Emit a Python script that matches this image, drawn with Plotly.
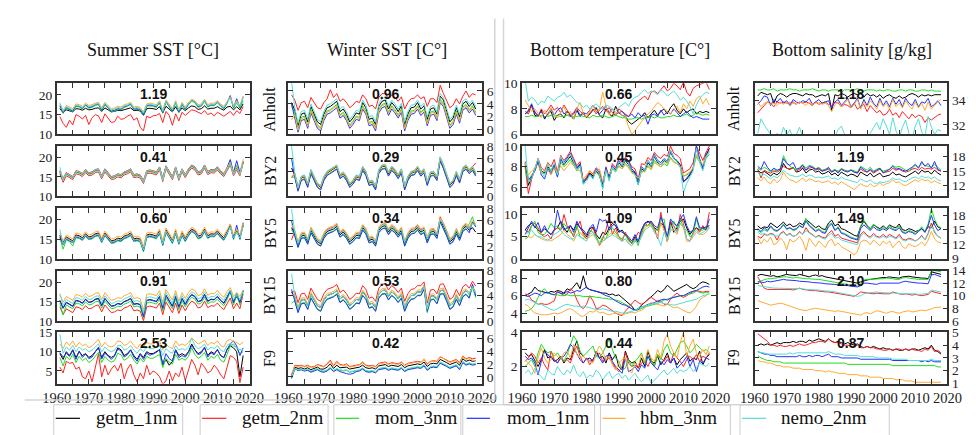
import plotly.graph_objects as go

W, H = 976, 435
years = list(range(1961, 2019))
models = ["getm_1nm", "getm_2nm", "mom_3nm", "mom_1nm", "hbm_3nm", "nemo_2nm"]
colors = {"getm_1nm": "#000000", "getm_2nm": "#ff2222", "mom_3nm": "#22dd22",
          "mom_1nm": "#2233ff", "hbm_3nm": "#ffaa33", "nemo_2nm": "#55ddd5"}
stations = ["Anholt", "BY2", "BY5", "BY15", "F9"]
col_titles = ["Summer SST [°C]", "Winter SST [C°]", "Bottom temperature [C°]", "Bottom salinity [g/kg]"]

# ---------------- Summer SST ----------------
summer_anholt = {
    "getm_1nm": [16.5,15.5,16.2,16.0,15.7,16.5,16.4,16.1,16.6,16.2, 16.3,16.6,16.7,15.8,16.7,16.2,15.7,15.8,16.1,16.0,
                 16.3,16.5,16.7,16.0,16.1,15.9,14.8,16.5,16.6,16.5, 16.3,17.0,15.5,17.1,16.4,15.7,17.0,15.6,16.7,16.0,
                 16.7,17.2,17.0,16.3,16.5,17.2,16.4,16.6,16.6,17.0, 16.5,16.1,16.9,17.1,16.2,17.0,16.2,17.7],
    "getm_2nm": [14.5,12.8,11.8,13.6,12.4,15.0,14.6,13.9,14.8,12.5, 14.2,15.0,14.7,13.0,15.2,14.0,13.0,13.2,14.6,13.8,
                 14.0,14.6,15.0,13.6,14.2,11.8,10.9,14.6,14.2,14.7, 14.8,15.3,13.0,15.8,14.8,12.3,15.2,13.4,15.6,14.8,
                 15.4,16.2,16.0,15.6,15.2,16.0,15.0,15.4,14.7,15.6, 15.0,14.6,15.2,15.8,14.8,16.0,15.3,17.0],
    "mom_3nm": [17.1,15.3,16.6,16.2,15.7,17.1,16.9,16.4,17.3,16.6, 16.8,17.3,17.5,15.9,17.5,16.6,15.7,15.9,16.3,16.2,
                16.8,17.1,17.5,16.2,16.3,16.1,14.8,17.1,17.2,17.1, 16.8,18.0,15.3,18.2,16.9,15.7,18.0,15.5,17.5,16.2,
                17.5,18.4,18.0,16.8,17.1,18.4,16.9,17.3,17.2,18.0, 17.1,16.4,17.8,19.6,16.6,18.0,16.6,18.5],
    "mom_1nm": [17.3,15.5,16.8,16.4,15.9,17.3,17.1,16.6,17.5,16.8, 17.0,17.5,17.7,16.1,17.7,16.8,15.9,16.1,16.5,16.4,
                17.0,17.3,17.7,16.4,16.5,16.3,15.0,17.3,17.4,17.3, 17.0,18.2,15.5,18.4,17.1,15.9,18.2,15.7,17.7,16.4,
                17.7,18.6,18.2,17.0,17.3,18.6,17.1,17.5,17.4,18.2, 17.3,16.6,18.0,19.8,16.8,19.0,16.8,19.5],
    "hbm_3nm": [17.7,16.1,17.3,16.9,16.5,17.7,17.5,17.1,17.9,17.3, 17.5,17.9,18.1,16.7,18.1,17.3,16.5,16.7,17.1,16.9,
                17.5,17.7,18.1,16.9,17.1,16.8,15.7,17.7,17.9,17.7, 17.5,18.5,16.1,18.7,17.5,16.5,18.5,16.3,18.1,16.9,
                18.1,18.9,18.5,17.5,17.7,18.9,17.5,17.9,17.9,18.5, 17.7,17.1,18.3,19.5,17.3,18.5,17.3,19.7],
    "nemo_2nm": [18.0,15.8,17.0,16.6,16.2,17.4,17.2,16.8,17.6,17.0, 17.2,17.6,17.8,16.4,17.8,17.0,16.2,16.4,16.8,16.6,
                 17.2,17.4,17.8,16.6,16.8,16.5,15.4,17.4,17.6,17.4, 17.2,18.2,15.8,18.4,17.2,16.2,18.2,16.0,17.8,16.6,
                 17.8,18.6,18.2,17.2,17.4,18.6,17.2,17.6,17.6,18.2, 17.4,16.8,18.0,19.2,17.0,18.2,17.0,19.4],
}
summer_by2 = {
    "getm_1nm": [16.3,14.3,15.8,15.3,14.8,16.3,16.1,15.6,16.6,15.8, 16.0,16.6,16.8,15.0,16.8,15.8,14.8,15.0,15.5,15.3,
                 16.0,16.3,16.8,15.3,15.5,15.2,13.8,16.3,16.5,16.3, 16.0,17.3,14.3,17.6,16.1,14.8,17.3,14.6,16.8,15.3,
                 16.8,17.8,17.3,16.0,16.3,17.8,16.1,16.6,16.5,17.3, 16.3,15.6,17.1,18.6,15.8,17.3,15.8,18.8],
    "getm_2nm": [15.8,13.6,15.3,14.8,14.3,15.8,15.6,15.1,16.1,15.3, 15.5,16.1,16.3,14.5,16.3,15.3,14.3,14.5,15.0,14.8,
                 15.5,15.8,16.3,14.8,15.0,14.7,13.3,15.8,16.0,15.8, 15.5,16.8,13.8,17.1,15.6,14.3,16.8,14.1,16.3,14.8,
                 16.3,17.3,16.8,15.5,15.8,17.3,15.6,16.1,16.0,16.8, 15.8,15.1,16.6,18.1,15.3,16.8,15.3,18.6],
    "mom_3nm": [16.4,14.4,15.9,15.4,14.9,16.4,16.2,15.7,16.7,15.9, 16.1,16.7,16.9,15.1,16.9,15.9,14.9,15.1,15.6,15.4,
                16.1,16.4,16.9,15.4,15.6,15.3,13.9,16.4,16.6,16.4, 16.1,17.4,14.4,17.7,16.2,14.9,17.4,14.7,16.9,15.4,
                16.9,17.9,17.4,16.1,16.4,17.9,16.2,16.7,16.6,17.4, 16.4,15.7,17.2,19.4,15.9,18.0,15.9,18.9],
    "mom_1nm": [16.6,14.6,16.1,15.6,15.1,16.6,16.4,15.9,16.9,16.1, 16.3,16.9,17.1,15.3,17.1,16.1,15.1,15.3,15.8,15.6,
                16.3,16.6,17.1,15.6,15.8,15.5,14.1,16.6,16.8,16.6, 16.3,17.6,14.6,17.9,16.4,15.1,17.6,14.9,17.1,15.6,
                17.1,18.1,17.6,16.3,16.6,18.1,16.4,16.9,16.8,17.6, 16.6,15.9,17.4,19.5,16.1,19.2,16.1,19.0],
    "hbm_3nm": [16.5,14.5,16.0,15.5,15.0,16.5,16.3,15.8,16.8,16.0, 16.2,16.8,17.0,15.2,17.0,16.0,15.0,15.2,15.7,15.5,
                16.2,16.5,17.0,15.5,15.7,15.4,14.0,16.5,16.7,16.5, 16.2,17.5,14.5,17.8,16.3,15.0,17.5,14.8,17.0,15.5,
                17.0,18.0,17.5,16.2,16.5,18.0,16.3,16.8,16.7,17.5, 16.5,15.8,17.3,18.8,16.0,17.5,16.0,19.6],
    "nemo_2nm": [17.5,14.1,15.6,15.1,14.6,16.1,15.9,15.4,16.4,15.6, 15.8,16.4,16.6,14.8,16.6,15.6,14.6,14.8,15.3,15.1,
                 15.8,16.1,16.6,15.1,15.3,15.0,13.6,16.1,16.3,16.1, 15.8,17.1,14.1,17.4,15.9,14.6,17.1,14.4,16.6,15.1,
                 16.6,17.6,17.1,15.8,16.1,17.6,15.9,16.4,16.3,17.1, 16.1,15.4,16.9,18.4,15.6,17.1,15.6,18.6],
}
summer_by5 = {
    "getm_1nm": [16.1,14.1,15.6,15.1,14.6,16.1,15.9,15.4,16.4,15.6, 15.8,16.4,16.6,14.8,16.6,15.6,14.6,14.8,15.3,15.1,
                 15.8,16.1,16.6,15.1,15.3,15.0,12.6,16.1,16.3,16.1, 15.8,17.1,14.1,17.4,15.9,14.6,17.1,14.4,16.6,15.1,
                 16.6,17.6,17.1,15.8,16.1,17.6,15.9,16.4,16.3,17.1, 16.1,15.4,16.9,18.4,15.6,17.1,15.6,18.6],
    "getm_2nm": [15.9,13.9,15.4,14.9,14.4,15.9,15.7,15.2,16.2,15.4, 15.6,16.2,16.4,14.6,16.4,15.4,14.4,14.6,15.1,14.9,
                 15.6,15.9,16.4,14.9,15.1,14.8,12.4,15.9,16.1,15.9, 15.6,16.9,13.9,17.2,15.7,14.4,16.9,14.2,16.4,14.9,
                 16.4,17.4,16.9,15.6,15.9,17.4,15.7,16.2,16.1,16.9, 15.9,15.2,16.7,18.2,15.4,16.9,15.4,18.4],
    "mom_3nm": [15.4,12.5,14.9,14.4,13.3,15.4,15.2,14.7,15.7,14.9, 15.1,15.7,15.9,14.1,15.9,14.9,13.9,14.1,14.6,14.4,
                15.1,15.4,15.9,14.4,14.6,14.3,11.8,15.4,15.6,15.4, 15.1,16.4,13.4,16.7,15.2,13.9,16.4,13.7,15.9,14.4,
                15.9,16.9,16.4,15.1,15.4,16.9,15.2,15.7,15.6,16.4, 15.4,14.7,16.2,18.6,14.9,17.5,14.9,19.0],
    "mom_1nm": [15.6,13.6,15.1,14.6,14.1,15.6,15.4,14.9,15.9,15.1, 15.3,15.9,16.1,14.3,16.1,15.1,14.1,14.3,14.8,14.6,
                15.3,15.6,16.1,14.6,14.8,14.5,12.1,15.6,15.8,15.6, 15.3,16.6,13.6,16.9,15.4,14.1,16.6,13.9,16.1,14.6,
                16.1,17.1,16.6,15.3,15.6,17.1,15.4,15.9,15.8,16.6, 15.6,14.9,16.4,18.8,15.1,18.6,15.1,19.2],
    "hbm_3nm": [16.6,14.6,16.1,15.6,15.1,16.6,16.4,15.9,16.9,16.1, 16.3,16.9,17.1,15.3,17.1,16.1,15.1,15.3,15.8,15.6,
                16.3,16.6,17.1,15.6,15.8,15.5,13.1,16.6,16.8,16.6, 16.3,17.6,14.6,17.9,16.4,15.1,17.6,14.9,17.1,15.6,
                17.1,18.1,17.6,16.3,16.6,18.1,16.4,16.9,16.8,17.6, 16.6,15.9,17.4,18.9,16.1,17.6,16.1,19.3],
    "nemo_2nm": [17.5,13.8,15.3,14.8,14.3,15.8,15.6,15.1,16.1,15.3, 15.5,16.1,16.3,14.5,16.3,15.3,14.3,14.5,15.0,14.8,
                 15.5,15.8,16.3,14.8,15.0,14.7,12.3,15.8,16.0,15.8, 15.5,16.8,13.8,17.1,15.6,14.3,16.8,14.1,16.3,14.8,
                 16.3,17.3,16.8,15.5,15.8,17.3,15.6,16.1,16.0,16.8, 15.8,15.1,16.6,18.1,15.3,16.8,15.3,18.3],
}
summer_by15 = {
    "getm_1nm": [15.3,13.3,14.8,14.3,13.8,15.3,15.1,14.6,15.6,14.8, 15.0,15.6,15.8,14.0,15.8,14.8,13.8,14.0,14.5,14.3,
                 15.0,15.3,15.8,14.3,14.5,14.2,11.2,15.3,15.5,15.3, 15.0,16.3,13.3,16.6,15.1,13.8,16.3,13.6,15.8,14.3,
                 15.8,16.8,16.3,15.0,15.3,16.8,15.1,15.6,15.5,16.3, 15.3,14.6,16.1,17.6,14.8,16.3,14.8,17.8],
    "getm_2nm": [13.6,11.6,13.1,12.6,12.1,13.6,13.4,12.9,13.9,13.1, 13.3,13.9,14.1,12.3,14.1,13.1,12.1,12.3,12.8,12.6,
                 13.3,13.6,14.1,12.6,12.8,12.5,10.0,13.6,13.8,13.6, 13.3,14.6,11.6,14.9,13.4,12.1,14.6,11.9,14.1,12.6,
                 14.1,15.1,14.6,13.3,13.6,15.1,13.4,13.9,13.8,14.6, 13.6,12.9,14.4,15.9,13.1,14.6,13.1,17.0],
    "mom_3nm": [14.6,11.5,14.1,13.6,13.1,14.6,14.4,13.9,14.9,14.1, 14.3,14.9,15.1,13.3,15.1,14.1,13.1,13.3,13.8,13.6,
                14.3,14.6,15.1,13.6,13.8,13.5,10.8,14.6,14.8,14.6, 14.3,15.6,12.6,15.9,14.4,13.1,15.6,12.9,15.1,13.6,
                15.1,16.1,15.6,14.3,14.6,16.1,14.4,14.9,14.8,15.6, 14.6,13.9,15.4,17.6,14.1,16.6,14.1,17.6],
    "mom_1nm": [15.2,13.2,14.7,14.2,13.7,15.2,15.0,14.5,15.5,14.7, 14.9,15.5,15.7,13.9,15.7,14.7,13.7,13.9,14.4,14.2,
                14.9,15.2,15.7,14.2,14.4,14.1,11.1,15.2,15.4,15.2, 14.9,16.2,13.2,16.5,15.0,13.7,16.2,13.5,15.7,14.2,
                15.7,16.7,16.2,14.9,15.2,16.7,15.0,15.5,15.4,16.2, 15.2,14.5,16.0,17.9,14.7,17.2,14.7,17.9],
    "hbm_3nm": [16.8,14.8,16.3,15.8,15.3,16.8,16.6,16.1,17.1,16.3, 16.5,17.1,17.3,15.5,17.3,16.3,15.3,15.5,16.0,15.8,
                16.5,16.8,17.3,15.8,16.0,15.7,12.7,16.8,17.0,16.8, 16.5,17.8,14.8,18.1,16.6,15.3,17.8,15.1,17.3,15.8,
                17.3,18.3,17.8,16.5,16.8,18.3,16.6,17.1,17.0,17.8, 16.8,16.1,17.6,18.6,16.3,17.3,16.3,18.0],
    "nemo_2nm": [17.0,14.0,15.5,15.0,14.5,16.0,15.8,15.3,16.3,15.5, 15.7,16.3,16.5,14.7,16.5,15.5,14.5,14.7,15.2,15.0,
                 15.7,16.0,16.5,15.0,15.2,14.9,11.9,16.0,16.2,16.0, 15.7,17.0,14.0,17.3,15.8,14.5,17.0,14.3,16.5,15.0,
                 16.5,17.5,17.0,15.7,16.0,17.5,15.8,16.3,16.2,17.0, 16.0,15.3,16.8,18.0,15.5,17.0,15.5,17.8],
}
summer_f9 = {
    "getm_1nm": [9.5,8.0,10.0,9.0,10.5,8.5,10.0,9.0,9.5,8.5, 9.0,10.0,11.0,8.5,10.0,9.0,8.5,9.0,11.0,10.5,
                 9.0,9.5,10.5,9.0,8.0,9.5,8.5,10.0,9.5,9.5, 10.0,10.5,6.5,8.0,6.5,7.5,10.5,9.0,9.5,9.0,
                 10.0,12.0,10.5,9.5,10.0,11.0,9.0,10.0,9.5,10.5, 9.0,8.5,10.5,11.5,11.0,10.0,3.5,9.0],
    "getm_2nm": [6.0,4.5,7.5,7.0,7.2,5.5,6.0,3.5,3.0,5.0, 2.2,6.0,9.5,3.5,6.5,4.0,5.5,6.5,5.0,7.0,
                 3.0,5.5,6.8,4.0,2.2,4.5,3.0,6.5,4.0,5.0, 4.5,3.5,1.5,2.5,5.0,2.5,4.5,3.5,6.0,2.5,
                 5.5,8.0,6.5,4.0,7.0,6.0,4.5,5.0,6.5,5.5, 4.0,3.0,6.0,9.0,8.5,7.5,2.0,6.0],
    "mom_3nm": [8.5,6.3,8.8,7.9,9.3,7.2,8.8,7.7,8.3,7.2, 7.8,8.8,9.8,7.2,8.8,7.8,7.3,7.7,9.6,9.2,
                7.8,8.3,9.3,7.8,6.8,8.3,7.3,8.8,8.3,8.3, 8.8,9.3,5.9,8.3,7.3,6.8,9.3,7.8,8.3,7.8,
                8.8,11.0,9.3,8.3,8.8,9.8,7.8,8.8,8.3,9.3, 7.8,7.3,9.3,11.5,12.0,11.0,9.5,10.0],
    "mom_1nm": [9.8,8.6,9.6,8.8,10.3,8.0,10.2,8.5,9.4,8.2, 8.6,9.9,11.2,8.1,9.6,8.8,8.0,8.9,10.7,10.2,
                8.6,9.2,10.4,8.6,7.5,9.3,8.0,9.6,9.1,9.4, 9.8,10.6,6.8,9.5,8.2,7.6,10.4,8.5,9.0,8.6,
                9.8,11.6,10.3,9.2,9.6,11.2,8.6,9.7,9.2,10.6, 9.0,8.4,10.6,12.0,12.8,11.5,9.0,11.0],
    "hbm_3nm": [12.0,10.8,12.5,11.6,12.8,11.2,12.4,11.5,12.0,11.0, 11.5,12.4,13.2,11.2,12.4,11.5,11.2,11.6,12.8,12.6,
                11.6,12.0,12.8,11.6,10.8,12.0,11.2,12.4,12.0,12.0, 12.4,12.8,10.5,12.0,11.2,10.8,12.8,11.6,12.0,11.6,
                12.4,13.6,12.8,12.0,12.4,13.0,11.6,12.4,12.0,12.8, 11.6,11.2,12.8,13.2,12.6,12.4,11.8,12.5],
    "nemo_2nm": [14.5,9.6,11.2,10.4,11.6,10.0,11.2,10.4,10.8,10.0, 10.4,11.2,12.0,10.0,11.2,10.4,10.0,10.4,11.6,11.6,
                 10.4,10.8,11.6,10.4,9.6,10.8,10.0,11.2,10.8,10.8, 11.2,11.6,9.0,10.8,10.0,9.6,11.6,10.4,10.8,10.4,
                 11.2,13.5,11.6,10.8,11.2,12.0,10.4,11.2,10.8,11.6, 10.4,10.0,11.6,12.2,11.5,11.0,10.5,10.5],
}

# ---------------- Winter SST ----------------
winter_anholt = {
    "getm_1nm": [4.2,3.0,0.6,2.4,2.6,1.2,3.6,2.4,1.2,0.8, 2.4,3.4,3.6,4.0,4.4,2.8,3.2,2.4,1.2,1.8,
                 2.6,2.4,4.2,3.4,1.6,1.8,0.8,3.6,4.4,4.6, 3.2,4.2,3.6,2.8,3.7,0.8,2.4,3.4,3.5,4.2,
                 3.2,3.7,1.6,3.2,3.4,2.4,5.2,4.6,3.0,1.2, 1.8,3.4,2.0,4.0,4.4,3.6,4.2,3.2],
    "getm_2nm": [5.4,4.6,3.0,4.2,4.4,3.4,5.0,4.2,3.4,3.2, 4.2,4.8,6.2,5.0,5.6,4.4,4.8,4.2,3.4,3.8,
                 4.4,4.2,5.4,4.8,3.6,3.8,3.2,5.0,5.6,5.6, 4.8,5.4,5.0,4.4,5.1,3.2,4.2,4.8,4.9,5.4,
                 4.8,5.1,3.6,4.8,4.8,4.2,6.9,5.6,4.6,3.4, 3.8,4.8,4.0,5.2,6.0,5.0,5.6,5.4],
    "mom_3nm": [3.7,2.5,0.1,1.9,2.1,0.7,3.1,1.9,0.7,0.3, 1.9,2.9,3.1,3.5,3.9,2.3,2.7,1.9,0.7,1.3,
                2.1,1.9,3.7,2.9,1.1,1.3,0.3,3.1,3.9,4.1, 2.7,3.7,3.1,2.3,3.2,0.3,1.9,2.9,3.0,3.7,
                2.7,3.2,1.1,2.7,2.9,1.9,4.7,4.1,2.5,0.7, 1.3,2.9,1.5,3.5,3.9,3.1,3.7,2.7],
    "mom_1nm": [4.0,2.0,-0.4,1.4,1.6,0.2,2.6,1.4,0.2,-0.2, 1.4,2.4,2.6,3.0,3.4,1.8,2.2,1.4,0.2,0.8,
                1.6,1.4,3.2,2.4,0.6,0.8,-0.2,2.6,3.4,3.6, 2.2,3.2,2.6,1.8,2.7,-0.2,1.4,2.4,2.5,3.2,
                2.2,2.7,0.6,2.2,2.4,1.4,4.2,3.6,2.0,0.2, 0.8,2.4,1.0,3.0,3.4,2.6,3.2,2.2],
    "hbm_3nm": [1.5,2.3,-0.1,1.7,1.9,0.5,2.9,1.7,0.5,0.1, 1.7,2.7,2.9,3.3,3.7,2.1,2.5,1.7,0.5,1.1,
                1.9,1.7,3.5,2.7,0.9,1.1,0.1,2.9,3.7,3.9, 2.5,3.5,2.9,2.1,3.0,0.1,1.7,2.7,2.8,3.5,
                2.5,3.0,0.9,2.5,2.7,1.7,4.5,3.9,2.3,0.5, 1.1,2.7,1.3,3.3,3.7,2.9,3.5,2.5],
    "nemo_2nm": [7.5,3.4,1.0,2.8,3.0,1.6,4.0,2.8,1.6,1.2, 2.8,3.8,4.0,4.4,4.8,3.2,3.6,2.8,1.6,2.2,
                 3.0,2.8,4.6,3.8,2.0,2.2,1.2,4.0,4.8,5.0, 3.6,4.6,4.0,3.2,4.1,1.2,2.8,3.8,3.9,4.6,
                 3.6,4.1,2.0,3.6,3.8,2.8,5.6,5.0,3.4,1.6, 2.2,3.8,2.4,4.4,4.8,4.0,4.6,3.6],
}
winter_by2 = {
    "getm_1nm": [4.5,3.4,1.2,2.9,3.1,1.8,4.0,2.9,1.8,1.4, 2.9,3.7,4.0,4.3,4.7,3.2,3.6,2.9,1.8,2.3,
                 3.1,2.9,4.5,3.7,2.1,2.3,1.4,4.0,4.7,4.8, 3.6,4.5,4.0,3.2,4.1,1.4,2.9,3.7,3.8,4.5,
                 3.6,4.1,2.1,3.6,3.7,2.9,6.0,4.8,3.4,1.8, 2.3,3.7,2.5,4.3,4.7,4.0,4.5,3.6],
    "getm_2nm": [3.0,3.6,1.4,3.1,3.3,2.0,4.2,3.1,2.0,1.6, 3.1,3.9,4.2,4.5,4.9,3.4,3.8,3.1,2.0,2.5,
                 3.3,3.1,4.7,3.9,2.3,2.5,1.6,4.2,4.9,5.0, 3.8,4.7,4.2,3.4,4.3,1.6,3.1,3.9,4.0,4.7,
                 3.8,4.3,2.3,3.8,3.9,3.1,6.2,5.0,3.6,2.0, 2.5,3.9,2.7,4.5,4.9,4.2,4.7,5.3],
    "mom_3nm": [3.0,3.1,0.9,2.6,2.8,1.5,3.7,2.6,1.5,1.1, 2.6,3.4,3.7,4.0,4.4,2.9,3.3,2.6,1.5,2.0,
                2.8,2.6,4.2,3.4,1.8,2.0,1.1,3.7,4.4,4.5, 3.3,4.2,3.7,2.9,3.8,1.1,2.6,3.4,3.5,4.2,
                3.3,3.8,1.8,3.3,3.4,2.6,5.7,4.5,3.1,1.5, 2.0,3.4,2.2,4.0,4.4,3.7,4.2,3.3],
    "mom_1nm": [6.0,3.0,0.8,2.5,2.7,1.4,3.6,2.5,1.4,1.0, 2.5,3.3,3.6,3.9,4.3,2.8,3.2,2.5,1.4,1.9,
                2.7,2.5,4.1,3.3,1.7,1.9,1.0,3.6,4.3,4.4, 3.2,4.1,3.6,2.8,3.7,1.0,2.5,3.3,3.4,4.1,
                3.2,3.7,1.7,3.2,3.3,2.5,5.6,4.4,3.0,1.4, 1.9,3.3,2.1,3.9,4.3,3.6,4.1,3.2],
    "hbm_3nm": [3.2,3.5,1.3,3.0,3.2,1.9,4.1,3.0,1.9,1.5, 3.0,3.8,4.1,4.4,4.8,3.3,3.7,3.0,1.9,2.4,
                3.2,3.0,4.6,3.8,2.2,2.4,1.5,4.1,4.8,4.9, 3.7,4.6,4.1,3.3,4.2,1.5,3.0,3.8,3.9,4.6,
                3.7,4.2,2.2,3.7,3.8,3.0,6.1,4.9,3.5,1.9, 2.4,3.8,2.6,4.4,4.8,4.1,4.6,3.7],
    "nemo_2nm": [8.0,3.7,1.5,3.2,3.4,2.1,4.3,3.2,2.1,1.7, 3.2,4.0,4.3,4.6,5.0,3.5,3.9,3.2,2.1,2.6,
                 3.4,3.2,4.8,4.0,2.4,2.6,1.7,4.3,5.0,5.1, 3.9,4.8,4.3,3.5,4.4,1.7,3.2,4.0,4.1,4.8,
                 3.9,4.4,2.4,3.9,4.0,3.2,6.3,5.1,3.7,2.1, 2.6,4.0,2.8,4.6,5.0,4.3,4.8,3.9],
}
winter_by5 = {
    "getm_1nm": [4.9,4.0,2.2,3.6,3.7,2.7,4.5,3.6,2.7,2.4, 3.6,4.3,4.5,4.7,5.1,3.8,4.2,3.6,2.7,3.1,
                 3.7,3.6,4.9,4.3,2.9,3.1,2.4,4.5,5.1,5.2, 4.2,4.9,4.5,3.8,4.5,2.4,3.6,4.3,4.4,4.9,
                 4.2,4.5,2.9,4.2,4.3,3.6,6.0,5.2,4.0,2.7, 3.1,4.3,3.3,4.7,5.1,4.5,4.9,4.2],
    "getm_2nm": [3.0,4.3,2.5,3.9,4.0,3.0,4.8,3.9,3.0,2.7, 3.9,4.6,4.8,5.0,5.4,4.1,4.5,3.9,3.0,3.4,
                 4.0,3.9,5.2,4.6,3.2,3.4,2.7,4.8,5.4,5.5, 4.5,5.2,4.8,4.1,4.8,2.7,3.9,4.6,4.7,5.2,
                 4.5,4.8,3.2,4.5,4.6,3.9,6.6,5.5,4.3,3.0, 3.4,4.6,3.6,5.0,5.4,4.8,5.8,5.2],
    "mom_3nm": [4.6,3.7,1.9,3.3,3.4,2.4,4.2,3.3,2.4,2.1, 3.3,4.0,4.2,4.4,4.8,3.5,3.9,3.3,2.4,2.8,
                3.4,3.3,4.6,4.0,2.6,2.8,2.1,4.2,4.8,4.9, 3.9,4.6,4.2,3.5,4.2,2.1,3.3,4.0,4.1,4.6,
                3.9,4.2,2.6,3.9,4.0,3.3,5.9,4.9,3.7,2.4, 2.8,4.0,3.0,4.4,4.8,5.5,6.6,5.0],
    "mom_1nm": [6.0,3.6,1.8,3.2,3.3,2.3,4.1,3.2,2.3,2.0, 3.2,3.9,4.1,4.3,4.7,3.4,3.8,3.2,2.3,2.7,
                3.3,3.2,4.5,3.9,2.5,2.7,2.0,4.1,4.7,4.8, 3.8,4.5,4.1,3.4,4.1,2.0,3.2,3.9,4.0,4.5,
                3.8,4.1,2.5,3.8,3.9,3.2,5.8,4.8,3.6,2.3, 2.7,3.9,2.9,4.3,4.7,4.1,5.8,5.0],
    "hbm_3nm": [5.4,4.5,2.7,4.1,4.2,3.2,5.0,4.1,3.2,2.9, 4.1,4.8,5.0,5.2,5.6,4.3,4.7,4.1,3.2,3.6,
                4.2,4.1,5.4,4.8,3.4,3.6,2.9,5.0,5.6,5.7, 4.7,5.4,5.0,4.3,5.0,2.9,4.1,4.8,4.9,5.4,
                4.7,5.0,3.4,4.7,4.8,4.1,6.4,5.7,4.5,3.2, 3.6,4.8,3.8,5.2,5.6,5.0,6.0,5.5],
    "nemo_2nm": [7.8,4.2,2.4,3.8,3.9,2.9,4.7,3.8,2.9,2.6, 3.8,4.5,4.7,4.9,5.3,4.0,4.4,3.8,2.9,3.3,
                 3.9,3.8,5.1,4.5,3.1,3.3,2.6,4.7,5.3,5.4, 4.4,5.1,4.7,4.0,4.7,2.6,3.8,4.5,4.6,5.1,
                 4.4,4.7,3.1,4.4,4.5,3.8,6.2,5.4,4.2,2.9, 3.3,4.5,3.5,4.9,5.3,4.7,5.6,5.2],
}
winter_by15 = {
    "getm_1nm": [4.6,3.7,1.9,3.3,3.4,2.4,4.2,3.3,2.4,2.1, 3.3,4.0,4.2,4.4,4.8,3.5,3.9,3.3,2.4,2.8,
                 3.4,3.3,4.6,4.0,2.6,2.8,2.1,4.2,4.8,4.9, 3.9,4.6,4.2,3.5,4.2,2.1,3.3,4.0,4.1,4.6,
                 4.6,5.6,1.8,3.9,4.0,3.3,4.8,4.9,3.7,2.4, 2.8,4.0,3.0,4.4,4.8,4.2,5.6,4.2],
    "getm_2nm": [4.5,4.7,2.9,4.3,4.4,3.4,5.2,4.3,3.4,3.1, 4.3,5.0,5.2,5.4,5.8,4.5,4.9,4.3,3.4,3.8,
                 4.4,4.3,5.6,5.0,3.6,3.8,3.1,5.2,5.8,5.9, 4.9,5.6,5.2,4.5,5.2,3.1,4.3,5.0,5.1,5.6,
                 5.6,6.2,2.8,4.9,5.0,4.3,5.8,5.9,4.7,3.4, 3.8,5.0,4.0,5.4,5.8,5.2,6.3,5.5],
    "mom_3nm": [2.8,3.2,1.4,2.8,2.9,1.9,3.7,2.8,1.9,1.6, 2.8,3.5,3.7,3.9,4.3,3.0,3.4,2.8,1.9,2.3,
                2.9,2.8,4.1,3.5,2.1,2.3,1.6,3.7,4.3,4.4, 3.4,4.1,3.7,3.0,3.7,1.6,2.8,3.5,3.6,4.1,
                4.1,5.1,1.3,3.4,3.5,2.8,4.3,4.4,3.2,1.9, 2.3,3.5,2.5,3.9,4.3,3.7,5.3,3.7],
    "mom_1nm": [5.0,3.1,1.3,2.7,2.8,1.8,3.6,2.7,1.8,1.5, 2.7,3.4,3.6,3.8,4.2,2.9,3.3,2.7,1.8,2.2,
                2.8,2.7,4.0,3.4,2.0,2.2,1.5,3.6,4.2,4.3, 3.3,4.0,3.6,2.9,3.6,1.5,2.7,3.4,3.5,4.0,
                4.0,5.0,1.5,3.3,3.4,2.7,4.2,4.3,3.1,1.8, 2.2,3.4,2.4,3.8,4.2,3.6,5.8,3.9],
    "hbm_3nm": [4.2,4.0,2.2,3.6,3.7,2.7,4.5,3.6,2.7,2.4, 3.6,4.3,4.5,4.7,5.1,3.8,4.2,3.6,2.7,3.1,
                3.7,3.6,4.9,4.3,2.9,3.1,2.4,4.5,5.1,5.2, 4.2,4.9,4.5,3.8,4.5,2.4,3.6,4.3,4.4,4.9,
                4.9,5.6,2.0,4.2,4.3,3.6,5.1,5.2,4.0,2.7, 3.1,4.3,3.3,4.7,5.1,4.5,5.2,4.7],
    "nemo_2nm": [7.5,3.9,1.9,3.3,3.4,2.4,4.2,3.3,2.4,2.1, 3.3,4.0,4.2,4.4,4.8,3.5,3.9,3.3,2.4,2.8,
                 3.4,3.3,4.6,4.0,2.6,2.8,2.1,4.2,4.8,4.9, 3.9,4.6,4.2,3.5,4.2,2.1,3.3,4.0,4.1,4.6,
                 4.6,5.4,1.8,3.9,4.0,3.3,4.8,4.9,3.7,2.4, 2.8,4.0,3.0,4.4,4.8,4.2,5.5,4.3],
}
winter_f9 = {
    "getm_1nm": [0.0,1.5,1.3,1.4,1.2,1.4,1.1,1.3,1.5,1.2, 1.2,1.5,2.0,1.3,1.8,1.4,1.4,1.5,1.2,1.3,
                 1.4,1.5,1.8,1.4,1.3,1.4,1.2,1.7,1.8,1.9, 1.6,1.8,1.7,1.6,1.9,1.4,1.7,1.8,1.8,2.0,
                 1.9,2.3,1.6,2.0,2.1,2.0,2.7,2.5,2.2,1.9, 2.1,2.3,1.8,2.8,2.4,2.6,2.4,2.5],
    "getm_2nm": [0.2,1.8,1.7,1.8,1.6,1.8,1.5,1.6,1.9,1.7, 1.6,2.0,2.6,1.7,2.4,1.9,1.8,2.0,1.6,1.7,
                 1.8,1.9,2.2,1.8,1.7,1.8,1.6,2.1,2.2,2.3, 2.0,2.2,2.1,2.0,2.3,1.8,2.1,2.2,2.2,2.4,
                 2.3,2.7,2.0,2.4,2.5,2.4,3.1,2.9,2.6,2.3, 2.5,2.7,2.2,3.2,2.8,3.0,2.8,2.9],
    "mom_3nm": [-0.3,1.2,1.0,1.1,0.9,1.1,0.8,1.0,1.2,0.9, 0.8,1.0,1.4,0.9,1.2,1.0,0.9,1.0,0.7,0.8,
                0.9,1.0,1.3,0.9,0.8,0.9,0.7,1.2,1.3,1.4, 1.1,1.3,1.2,1.1,1.4,0.9,1.2,1.3,1.3,1.5,
                1.4,1.8,1.1,1.5,1.6,1.5,2.2,2.0,1.7,1.4, 1.6,1.8,1.2,2.3,1.9,2.1,1.9,2.0],
    "mom_1nm": [-0.2,1.3,1.0,1.1,0.9,1.0,0.7,0.9,1.1,0.8, 0.7,0.9,1.3,0.8,1.1,0.8,0.6,0.5,0.4,0.5,
                0.8,0.9,1.2,0.8,0.7,0.8,0.6,1.1,1.2,1.3, 1.0,1.2,1.1,1.0,1.3,0.8,1.1,1.2,1.2,1.4,
                1.3,1.7,1.0,1.4,1.5,1.4,2.1,1.9,1.6,1.3, 1.5,1.7,1.1,2.2,1.8,2.0,1.8,1.9],
    "hbm_3nm": [0.5,1.7,1.6,1.7,1.5,1.7,1.4,1.5,1.8,1.6, 1.5,1.9,2.4,1.6,2.2,1.8,1.7,1.9,1.5,1.6,
                1.7,1.8,2.4,1.7,1.6,1.7,1.5,2.0,2.1,2.2, 1.9,2.1,2.0,1.9,2.2,1.7,2.0,2.1,2.1,2.3,
                2.2,2.8,1.9,2.3,2.4,2.3,3.2,2.8,2.5,2.2, 2.4,2.6,2.1,3.1,2.7,2.9,2.6,2.5],
    "nemo_2nm": [0.0,1.3,1.1,1.2,1.0,1.2,0.9,1.1,1.3,1.0, 0.9,1.1,1.5,1.0,1.3,1.1,1.0,1.1,0.8,0.9,
                 1.0,1.1,1.4,1.0,0.9,1.0,0.8,1.3,1.4,1.5, 1.2,1.4,1.3,1.2,1.5,1.0,1.3,1.4,1.4,1.6,
                 1.5,1.9,1.2,1.6,1.7,1.6,2.3,2.1,1.8,1.5, 1.7,1.9,1.3,2.4,2.0,2.2,2.0,2.1],
}

# ---------------- Bottom temperature ----------------
bottom_temp_anholt = {
    "getm_1nm": [7.6,7.8,8.3,7.5,7.4,7.9,7.2,7.6,7.8,7.1, 7.5,7.6,7.3,7.8,7.5,7.2,7.9,7.4,7.7,7.3,
                 7.6,7.9,8.1,7.5,7.3,8.0,7.6,7.4,8.2,7.7, 7.5,7.4,7.0,6.8,7.0,7.2,7.4,7.7,7.3,7.6,
                 7.9,7.5,7.8,8.0,7.6,8.1,8.4,7.9,7.6,8.0, 7.7,7.9,8.0,7.6,7.8,7.7,7.8,7.7],
    "getm_2nm": [7.8,7.6,8.2,7.8,7.4,8.0,7.6,7.9,8.3,7.9, 8.1,7.7,8.3,7.9,7.5,7.7,8.1,7.8,7.6,7.3,
                 7.7,8.0,7.6,7.9,8.2,7.8,8.1,7.7,7.5,8.0, 7.8,7.6,7.4,7.8,8.3,8.6,8.8,9.0,8.7,9.3,
                 9.4,9.2,9.5,9.8,9.4,9.6,10.0,9.8,9.5,10.1, 9.3,9.0,9.6,9.8,9.9,10.0,10.1,9.5],
    "mom_3nm": [7.4,7.4,7.5,7.4,7.4,7.5,7.4,7.4,7.5,7.4, 7.5,7.4,7.4,7.5,7.4,7.4,7.4,7.5,7.4,7.4,
                7.3,7.5,7.4,7.4,7.5,7.4,7.3,7.4,7.5,7.4, 7.3,7.3,7.2,7.2,7.3,7.3,7.2,7.3,7.3,7.4,
                7.3,7.4,7.3,7.3,7.4,7.4,7.5,7.4,7.4,7.5, 7.6,7.4,7.5,7.7,7.6,7.5,7.6,7.5],
    "mom_1nm": [7.6,7.9,8.4,7.7,7.5,7.8,7.3,7.6,8.0,7.5, 7.9,8.1,7.6,7.8,7.4,7.6,8.0,7.5,7.7,7.6,
                7.9,8.3,7.8,7.6,7.9,8.2,7.7,8.0,7.6,7.7, 7.8,7.5,7.4,7.6,7.3,7.7,7.4,7.5,6.8,7.5,
                7.6,7.4,7.9,7.5,7.8,7.6,8.0,7.7,7.4,7.6, 7.8,7.5,7.3,7.4,7.3,7.2,7.2,7.2],
    "hbm_3nm": [8.7,8.3,7.8,8.0,7.6,7.3,7.9,7.4,8.1,7.6, 7.3,7.7,8.2,7.5,7.8,7.2,8.0,8.5,7.6,7.4,
                7.9,8.3,7.7,8.0,9.3,8.2,7.5,8.0,7.6,7.8, 7.5,7.4,6.6,6.0,6.3,6.7,7.0,7.3,7.6,7.8,
                8.2,8.5,8.3,8.0,7.8,7.6,7.9,8.2,7.7,8.4, 8.0,8.6,8.2,8.8,9.0,8.4,8.8,8.3],
    "nemo_2nm": [10.2,8.6,8.9,8.7,8.3,8.6,8.5,9.0,8.8,8.6, 8.9,9.0,9.3,8.9,9.1,8.8,8.5,8.4,8.1,8.3,
                 8.0,8.2,8.4,8.1,8.0,8.3,8.2,8.0,7.8,8.1, 8.3,8.5,8.2,8.7,8.9,9.0,9.3,9.5,9.2,9.4,
                 9.3,9.1,9.5,9.3,9.0,9.2,9.4,9.1,8.7,8.9, 8.6,8.2,7.6,8.3,8.8,9.1,9.3,9.2],
}
bottom_temp_by2 = {
    "getm_1nm": [8.3,6.2,7.0,7.8,8.6,7.6,7.4,8.0,7.6,8.2, 7.2,8.8,8.2,8.6,9.0,8.4,7.8,8.2,6.4,6.9,
                 7.4,7.1,7.6,7.2,6.0,7.8,6.8,8.0,7.6,8.4, 8.0,8.6,8.2,7.6,7.4,6.3,7.8,7.6,8.4,8.0,
                 9.0,8.4,8.2,8.6,8.4,9.4,8.8,8.6,8.2,6.6, 6.8,7.2,7.8,9.9,8.6,7.8,9.0,9.8],
    "getm_2nm": [8.0,5.4,6.8,7.9,8.8,7.9,7.6,8.4,8.0,8.7, 7.5,9.1,8.6,9.0,9.5,8.8,8.1,8.5,6.6,7.0,
                 7.6,7.3,7.9,7.6,6.2,8.0,7.0,8.3,7.9,8.8, 8.4,8.9,8.6,8.0,7.8,6.8,8.3,8.2,8.9,8.6,
                 9.4,9.0,8.8,9.2,9.0,10.0,9.3,9.1,8.8,7.4, 7.6,7.8,8.4,10.0,9.3,8.6,9.4,10.0],
    "mom_3nm": [7.8,6.6,7.2,7.6,8.4,7.5,7.3,7.8,7.5,7.9, 7.1,8.5,8.0,8.3,8.7,8.2,7.6,8.0,6.5,6.8,
                7.3,7.0,7.5,7.1,6.2,7.6,6.9,7.8,7.5,8.1, 7.8,8.3,8.0,7.5,7.3,6.8,7.6,7.5,8.1,7.8,
                8.6,8.2,8.0,8.3,8.1,8.9,8.5,8.3,8.0,7.1, 7.2,7.4,7.8,9.0,8.4,7.9,8.8,9.2],
    "mom_1nm": [8.5,6.8,7.0,7.6,8.5,7.2,6.8,7.8,7.3,8.0, 7.0,8.7,8.4,8.8,9.3,8.6,7.9,8.3,6.5,6.8,
                7.3,6.9,7.8,7.4,6.3,7.9,7.0,8.1,7.7,8.6, 8.1,8.8,8.5,7.8,7.5,6.6,8.0,7.7,8.6,8.2,
                9.2,8.6,8.4,8.8,8.5,9.6,8.9,8.5,8.1,6.5, 6.9,7.3,7.9,10.0,8.8,7.9,9.3,9.6],
    "hbm_3nm": [8.4,7.2,7.6,7.9,8.2,7.4,7.6,7.7,7.2,7.9, 7.3,8.1,7.6,8.0,8.4,8.1,7.7,7.6,6.8,7.2,
                7.6,7.2,7.4,7.8,6.6,7.5,7.3,7.9,7.6,8.0, 7.8,8.2,7.9,7.4,7.2,6.9,7.4,7.6,8.0,7.7,
                8.4,8.2,8.0,8.5,8.3,8.8,8.4,8.3,8.0,7.0, 7.3,7.5,7.9,9.2,8.6,8.2,9.0,9.4],
    "nemo_2nm": [10.0,6.5,6.8,7.7,8.8,7.5,7.0,8.3,7.6,8.4, 7.2,9.0,8.3,8.7,9.2,8.5,7.7,8.1,6.3,6.6,
                 7.2,6.8,7.7,7.3,5.8,7.7,6.6,8.0,7.5,8.5, 8.1,8.7,8.3,7.5,7.2,6.2,7.9,7.7,8.6,8.1,
                 9.1,8.5,8.2,8.7,8.4,9.6,8.8,8.5,8.0,5.5, 6.4,7.0,7.6,9.8,8.4,7.6,8.9,9.5],
}
bottom_temp_by5 = {
    "getm_1nm": [6.5,7.5,8.0,7.2,6.5,6.0,6.8,6.2,5.5,6.5, 7.0,8.5,7.0,6.0,7.5,6.5,8.0,7.0,6.0,5.0,
                 6.8,7.2,5.5,4.5,6.0,5.5,7.0,8.0,7.5,6.0, 6.5,5.5,4.5,3.5,5.0,3.5,6.5,8.0,8.5,8.0,
                 7.0,6.5,8.0,7.5,4.0,8.5,6.0,7.0,8.5,9.0, 7.0,5.5,6.5,7.0,6.5,7.0,7.2,7.5],
    "getm_2nm": [6.5,6.0,7.5,8.0,7.0,5.5,5.0,5.5,4.5,6.5, 7.0,6.5,10.0,7.5,6.5,5.0,7.0,8.5,5.5,4.5,
                 6.0,7.0,5.0,3.0,4.5,6.5,9.5,5.5,7.0,5.0, 4.0,6.0,4.5,3.5,4.5,6.0,5.5,8.0,7.5,8.5,
                 7.0,4.5,10.5,6.5,4.0,8.5,7.5,6.0,10.0,8.0, 4.5,4.0,6.0,7.0,6.0,7.5,6.5,10.5],
    "mom_3nm": [4.5,5.0,7.5,8.5,6.0,5.5,5.5,6.5,8.0,7.0, 7.5,6.5,8.0,7.0,6.0,5.5,7.5,5.0,4.5,5.5,
                6.5,6.0,5.0,3.5,5.0,4.5,6.5,7.0,6.0,5.0, 4.5,5.5,4.0,3.5,4.5,3.0,6.0,7.5,7.5,8.0,
                6.5,6.5,8.5,9.0,4.0,7.0,8.5,7.0,9.0,7.0, 6.5,5.0,5.5,9.0,6.5,6.5,7.0,7.0],
    "mom_1nm": [5.5,7.0,8.5,7.0,8.2,6.0,7.5,6.0,5.5,6.5, 11.0,8.0,6.5,7.0,7.5,6.0,8.5,7.0,6.5,5.5,
                7.0,7.8,6.0,9.0,8.5,8.8,6.5,7.5,8.0,6.5, 6.0,5.5,5.0,4.0,5.5,4.0,6.5,8.0,8.2,8.5,
                7.5,7.0,9.5,7.5,5.0,9.0,8.0,7.5,9.0,10.0, 7.5,6.0,6.5,9.5,7.0,7.0,6.5,9.0],
    "hbm_3nm": [5.0,5.0,4.8,5.5,5.0,4.5,4.2,4.5,4.0,4.5, 5.0,5.5,6.5,5.5,5.0,4.0,5.5,6.0,5.0,4.5,
                5.0,5.5,4.5,3.0,4.0,4.5,5.5,6.0,5.5,4.5, 4.0,4.5,3.5,3.0,4.0,3.5,5.0,7.0,7.5,7.5,
                6.0,5.0,8.0,6.5,4.0,6.5,6.5,5.5,8.0,7.0, 4.0,4.0,5.0,6.0,5.5,5.5,6.0,7.0],
    "nemo_2nm": [5.5,6.0,6.5,5.5,5.0,5.0,4.5,4.0,5.0,5.5, 6.0,6.5,5.5,5.0,4.5,4.5,5.5,5.0,4.5,4.0,
                 5.5,6.0,4.5,3.5,4.0,4.5,5.0,5.5,5.0,4.5, 4.0,4.5,3.5,3.0,4.0,3.5,5.0,6.5,7.0,7.5,
                 6.0,5.0,3.0,6.0,4.5,6.5,7.0,6.0,8.0,7.5, 4.5,4.0,5.5,6.5,5.5,6.0,6.5,7.0],
}
bottom_temp_by15 = {
    "getm_1nm": [6.0,6.2,6.4,7.0,6.6,6.5,6.4,6.3,6.5,6.4, 6.6,6.5,6.3,6.8,6.6,7.0,7.5,6.8,8.3,6.9,
                 6.7,6.6,6.5,6.4,6.3,6.3,6.1,6.2,6.0,6.1, 5.8,5.5,5.2,4.8,4.3,4.5,4.9,5.2,5.5,5.8,
                 6.2,6.6,6.4,6.7,7.2,6.9,6.5,6.7,6.9,7.1, 7.3,7.0,6.8,7.0,7.4,7.6,7.5,7.3],
    "getm_2nm": [6.2,6.1,5.5,5.3,5.0,5.1,5.0,5.0,5.2,5.4, 6.5,6.2,6.0,6.2,6.8,6.5,5.5,4.8,4.5,5.0,
                 6.0,5.4,4.5,4.6,4.9,4.8,4.5,4.2,4.0,3.8, 3.7,4.2,4.6,5.0,5.5,5.2,5.0,5.2,5.6,5.8,
                 5.5,5.3,5.4,5.0,5.0,5.6,6.0,6.3,6.0,5.8, 6.0,6.3,6.5,6.6,6.5,6.4,6.5,6.5],
    "mom_3nm": [4.2,4.3,4.5,5.0,5.8,6.5,6.8,6.3,6.2,6.1, 6.1,6.0,6.0,6.1,6.0,6.0,6.0,6.0,5.9,5.9,
                5.9,5.9,5.8,5.8,5.7,5.7,5.6,5.6,5.5,5.4, 5.2,5.0,4.8,4.5,4.3,4.4,4.5,4.7,4.8,4.9,
                5.0,5.1,5.3,5.5,5.6,5.7,5.8,5.9,6.0,6.0, 6.1,6.2,6.3,6.5,6.4,6.3,6.4,6.3],
    "mom_1nm": [6.0,5.9,6.1,6.3,6.2,6.0,6.3,6.4,6.2,6.1, 6.4,6.3,6.2,6.5,6.3,6.4,6.6,6.5,6.8,7.0,
                6.7,6.6,6.5,6.4,6.2,6.0,5.9,5.6,5.4,5.2, 5.0,4.9,4.7,4.5,4.3,4.4,4.7,4.8,5.0,5.1,
                5.2,5.4,5.5,5.6,5.5,5.7,5.8,5.9,6.0,6.0, 6.2,6.4,6.5,6.6,6.8,7.0,7.1,7.0],
    "hbm_3nm": [5.0,4.8,4.3,4.0,3.9,3.8,3.8,3.8,3.9,4.0, 3.9,4.0,4.2,4.4,4.5,4.3,4.0,3.7,3.6,3.9,
                4.2,4.1,4.3,4.0,4.1,3.9,3.8,3.9,4.0,3.9, 3.8,3.9,4.0,4.1,4.0,4.2,4.3,4.6,5.0,5.2,
                5.1,5.0,4.9,4.8,5.0,4.8,4.6,4.7,4.5,4.3, 4.1,4.0,4.3,4.8,5.5,5.8,6.0,6.3],
    "nemo_2nm": [5.5,5.6,5.4,5.2,5.0,5.0,4.8,4.6,4.4,4.3, 4.5,4.7,4.9,5.0,4.9,4.8,4.8,4.7,4.8,4.7,
                 4.6,4.5,4.4,4.4,4.5,4.4,4.3,4.2,4.2,4.1, 4.0,4.0,4.1,4.2,4.3,4.5,4.7,4.8,4.9,5.0,
                 5.1,5.2,5.2,5.1,5.0,5.0,4.9,5.0,5.1,5.2, 5.3,5.4,5.5,5.6,5.8,6.0,6.1,6.2],
}
bottom_temp_f9 = {
    "getm_1nm": [2.8,2.6,2.7,2.3,2.0,2.4,3.0,2.5,2.6,2.3, 2.4,2.6,2.2,2.5,2.4,3.0,3.5,2.8,2.6,2.4,
                 2.5,2.3,2.9,2.5,2.6,2.2,2.8,2.4,2.7,2.0, 1.8,2.9,2.4,2.2,2.3,1.9,2.5,2.0,2.9,2.3,
                 2.2,2.6,2.1,2.4,2.8,2.2,2.5,2.1,2.4,2.6, 2.8,2.3,2.5,2.4,2.9,2.1,2.5,2.7],
    "getm_2nm": [2.3,2.5,2.8,2.6,2.2,2.5,2.1,1.8,2.9,2.4, 2.2,2.6,2.3,2.4,2.2,2.8,3.2,2.6,2.2,2.5,
                 2.1,2.4,2.6,2.8,2.3,2.4,2.5,2.2,1.9,1.7, 2.0,2.8,2.2,2.0,2.1,1.9,2.2,2.3,2.0,2.4,
                 2.0,2.7,2.5,2.3,2.6,2.2,2.8,2.5,2.3,2.0, 2.4,2.6,2.4,2.7,2.3,2.6,2.5,2.8],
    "mom_3nm": [2.0,2.2,2.4,2.0,2.8,3.3,3.0,2.8,2.9,2.6, 2.8,2.5,2.3,2.7,3.2,3.8,3.5,2.9,2.6,2.8,
                3.0,3.2,2.6,2.5,2.8,3.2,3.6,3.0,2.5,2.3, 1.8,1.9,2.4,2.0,2.3,2.5,2.8,2.2,2.6,2.4,
                2.0,2.7,2.4,3.0,3.3,2.8,2.6,3.0,3.4,3.5, 3.2,2.8,3.0,3.3,3.1,2.9,3.0,2.8],
    "mom_1nm": [2.6,2.4,2.5,2.2,1.5,2.3,2.9,2.7,2.5,2.4, 2.2,2.5,2.6,2.9,3.3,3.1,2.7,2.4,2.2,2.5,
                2.3,2.4,2.8,2.5,2.2,2.6,2.7,2.3,2.0,1.8, 1.6,2.5,1.7,1.8,2.0,1.7,2.1,1.9,2.6,2.2,
                2.0,1.8,2.3,2.1,2.4,2.2,2.5,1.9,2.1,2.3, 2.6,2.0,2.4,1.7,2.3,2.2,2.5,2.4],
    "hbm_3nm": [2.4,2.2,2.0,1.6,2.5,3.1,2.5,2.2,2.4,2.8, 2.6,2.4,2.8,2.9,2.5,3.3,2.7,2.5,2.6,2.4,
                2.3,2.2,2.8,3.2,2.9,2.4,2.6,2.1,1.8,2.2, 2.4,2.5,1.8,1.6,2.2,2.0,2.7,2.3,3.0,2.5,
                2.3,3.0,2.5,3.5,3.9,3.2,2.8,2.5,3.4,4.0, 2.6,3.2,3.6,2.8,2.6,3.0,2.7,3.2],
    "nemo_2nm": [1.6,1.8,1.5,1.9,1.6,1.4,1.2,1.8,1.6,1.5, 2.0,1.7,1.5,1.8,1.6,2.1,1.6,1.4,1.7,1.3,
                 1.5,1.4,1.8,1.6,1.2,1.5,1.7,1.3,1.5,1.6, 1.3,1.5,1.2,1.4,1.6,1.3,1.1,1.3,1.5,1.0,
                 1.2,1.4,1.6,1.8,1.5,1.7,1.9,1.6,1.8,1.7, 1.8,2.0,1.7,1.9,2.2,2.1,2.0,2.2],
}

# ---------------- Bottom salinity ----------------
bottom_sal_anholt = {
    "getm_1nm": [34.4,34.7,34.6,34.5,34.6,33.8,34.4,34.6,34.5,34.3, 34.5,34.6,34.6,34.5,34.4,34.6,34.5,34.5,34.3,34.4,
                 34.5,34.4,34.6,33.2,34.5,34.4,34.6,34.5,34.3,34.5, 34.6,34.5,34.7,34.3,34.6,34.4,34.5,34.3,34.5,34.2,
                 34.4,34.5,34.3,34.2,34.4,34.2,34.3,34.5,34.6,34.5, 34.3,34.5,34.4,34.5,34.4,34.5,34.5,34.5],
    "getm_2nm": [33.0,33.3,33.6,33.9,33.8,33.5,33.9,33.8,33.9,33.8, 33.8,33.9,33.7,33.9,33.8,33.9,33.8,33.6,33.9,33.7,
                 33.8,33.9,33.7,33.6,33.9,33.8,33.5,33.7,33.6,33.4, 33.8,33.3,33.5,33.7,33.1,33.6,33.3,33.0,33.2,32.8,
                 32.9,33.3,32.8,33.0,32.6,33.1,32.8,32.5,32.9,32.6, 32.8,32.7,32.2,32.6,32.4,32.6,32.8,32.9],
    "mom_3nm": [34.9,34.9,35.0,34.9,34.9,35.0,34.8,34.9,34.9,34.9, 35.0,34.9,34.9,34.8,34.9,34.9,34.9,35.0,34.9,34.8,
                34.9,34.9,34.8,34.9,34.9,34.9,34.7,34.9,34.9,34.9, 34.9,35.0,34.9,34.8,34.9,34.9,34.9,34.8,34.9,34.8,
                34.9,34.9,34.8,34.8,34.9,34.9,34.8,34.9,34.9,34.8, 34.8,34.9,34.9,34.8,34.9,34.8,34.8,34.8],
    "mom_1nm": [33.7,34.0,34.4,34.3,33.6,34.1,33.9,34.2,33.8,34.0, 33.6,34.1,33.9,33.8,34.0,33.9,34.2,33.7,33.9,34.1,
                33.8,33.9,34.0,33.4,33.9,34.1,33.6,33.9,34.2,33.5, 33.8,34.2,33.4,34.1,33.6,34.3,33.8,33.5,34.2,33.6,
                34.0,33.5,34.2,33.7,34.1,33.5,34.2,33.8,33.6,34.1, 33.5,33.9,33.8,34.2,33.5,33.7,34.0,33.6],
    "hbm_3nm": [33.9,33.5,33.8,33.9,33.7,33.8,33.6,33.9,33.7,33.9, 33.6,33.8,33.7,33.9,33.8,33.6,33.9,33.7,33.8,33.9,
                33.7,33.8,33.6,33.1,33.7,33.9,33.5,33.8,34.1,33.4, 33.7,34.1,33.3,33.9,33.5,34.0,33.7,33.3,34.0,33.5,
                33.8,33.3,34.1,33.5,33.8,33.4,34.0,33.6,33.3,33.9, 33.4,33.8,33.2,33.9,33.3,33.6,33.9,34.1],
    "nemo_2nm": [31.3,32.5,32.0,31.6,31.2,30.8,31.3,30.9,31.8,31.2, 31.6,30.8,31.2,31.8,30.9,31.0,30.7,31.2,30.8,30.6,
                 30.8,31.2,30.5,30.8,31.0,31.6,31.9,31.2,30.9,31.3, 30.8,31.2,30.6,30.9,30.7,31.3,31.8,32.2,31.6,32.5,
                 31.9,31.2,32.6,31.5,30.9,31.8,32.4,31.3,30.8,31.9, 32.5,31.4,31.0,32.7,31.8,31.2,31.6,31.5],
}
bottom_sal_by2 = {
    "getm_1nm": [15.2,14.6,15.0,14.4,14.0,14.6,14.2,14.8,16.6,15.6, 15.4,15.8,14.8,15.0,15.6,14.6,15.2,15.4,14.8,15.0,
                 14.4,14.6,15.0,14.2,14.6,14.0,14.8,14.4,14.0,14.4, 14.2,13.8,14.8,14.4,14.0,14.6,13.8,14.2,14.6,13.8,
                 14.0,14.2,14.8,14.2,14.4,14.0,13.8,14.2,14.6,15.0, 14.4,15.2,14.8,15.0,14.4,15.2,14.6,14.2],
    "getm_2nm": [15.4,13.6,15.2,14.8,14.6,15.0,14.8,15.2,16.0,15.6, 15.4,15.6,15.0,15.4,15.8,15.2,15.6,15.8,15.2,15.4,
                 15.0,15.2,15.4,14.8,15.2,15.0,15.4,15.2,15.0,15.2, 14.8,14.6,15.4,15.0,14.8,15.2,14.6,15.0,15.4,14.8,
                 14.8,15.0,15.6,15.2,15.4,15.0,14.8,15.0,15.4,15.6, 15.2,15.8,15.4,15.6,15.4,15.8,15.2,15.0],
    "mom_3nm": [15.6,15.2,15.8,15.4,14.8,15.3,15.0,15.6,18.2,16.8, 16.0,15.6,15.2,15.8,16.4,15.6,16.2,16.0,15.5,15.8,
                15.2,15.4,15.6,15.0,15.4,14.8,15.6,15.2,15.0,15.3, 15.0,14.8,16.0,15.6,15.2,15.8,15.0,15.4,15.6,15.0,
                15.2,15.4,16.2,15.8,16.0,15.6,15.2,15.0,15.6,16.2, 15.8,16.6,16.2,16.0,15.8,16.4,15.8,15.2],
    "mom_1nm": [16.0,15.4,17.0,15.8,15.0,15.6,15.2,15.4,17.6,16.6, 16.2,16.8,15.4,15.6,16.2,15.2,16.0,15.8,15.4,15.6,
                15.0,15.2,15.8,14.8,15.2,14.6,15.4,15.0,14.8,15.2, 14.8,14.6,15.8,15.2,14.8,15.4,14.8,15.2,15.6,14.6,
                15.0,15.4,16.0,15.4,15.6,15.2,15.0,15.4,15.8,16.4, 15.6,17.0,16.0,16.6,15.6,17.0,15.4,15.0],
    "hbm_3nm": [13.6,13.0,13.8,12.8,12.4,13.4,12.6,13.2,14.8,13.8, 13.2,13.0,12.6,13.2,13.6,12.8,13.4,13.2,12.8,13.0,
                12.6,12.8,13.0,12.4,12.8,12.2,12.8,12.4,12.0,11.6, 11.2,11.8,12.4,12.0,11.8,12.4,11.8,12.0,12.6,12.0,
                12.4,12.6,13.2,12.6,12.8,12.2,12.0,12.4,12.8,13.2, 12.8,13.4,13.0,13.2,12.6,13.0,12.6,12.4],
    "nemo_2nm": [14.8,14.0,14.4,13.8,13.4,14.0,13.6,14.2,15.2,14.6, 14.2,14.0,13.8,14.0,14.4,13.8,14.2,14.0,13.6,13.8,
                 13.6,13.8,14.0,13.4,13.6,13.2,13.8,13.4,13.2,13.0, 12.8,12.6,13.4,13.0,12.8,13.2,12.6,12.4,12.8,12.6,
                 12.8,13.0,13.6,13.2,13.4,13.0,12.8,13.2,13.6,13.8, 13.4,14.0,13.6,13.8,13.4,13.8,13.2,13.0],
}
bottom_sal_by5 = {
    "getm_1nm": [15.8,15.2,15.6,15.4,16.4,15.8,15.4,16.0,16.6,15.8, 16.2,15.6,15.8,16.4,16.0,17.2,16.6,16.2,15.4,15.8,
                 15.2,15.0,16.4,17.0,15.8,16.2,15.2,15.0,14.6,14.2, 13.8,13.6,15.6,16.8,15.8,15.2,16.0,15.6,15.2,15.8,
                 15.2,16.0,15.6,15.4,16.2,15.0,14.8,15.2,15.0,14.6, 14.8,15.2,14.6,15.6,15.4,16.8,15.6,15.2],
    "getm_2nm": [13.6,13.2,14.0,13.8,14.2,14.0,12.8,14.2,14.6,13.8, 14.2,13.6,13.8,14.6,14.0,15.4,14.4,14.0,13.4,13.8,
                 13.4,13.2,14.2,14.8,13.6,14.0,13.2,13.0,12.8,12.6, 12.4,12.2,14.0,14.6,13.8,13.4,14.2,13.6,13.4,14.0,
                 13.4,14.0,13.6,13.2,14.0,13.0,12.8,13.2,13.0,12.6, 13.0,13.8,12.8,14.2,16.4,14.4,13.6,13.2],
    "mom_3nm": [14.8,14.4,15.0,14.6,15.6,14.8,14.6,15.2,16.2,15.0, 15.4,14.8,15.0,16.0,15.4,17.4,16.0,15.4,14.8,15.2,
                14.6,14.4,16.0,16.4,15.0,15.6,14.4,14.2,13.8,13.4, 13.2,13.0,15.8,17.0,16.0,15.0,16.2,15.4,15.0,15.6,
                15.0,15.8,15.2,15.0,15.8,14.6,14.4,14.8,14.6,14.2, 14.8,15.6,14.6,16.2,19.4,17.2,15.8,15.4],
    "mom_1nm": [15.2,14.6,15.4,14.8,15.8,15.0,14.8,15.2,16.0,15.2, 15.4,15.0,15.2,15.8,15.4,16.8,15.8,15.2,14.6,15.0,
                14.4,14.2,15.6,16.2,14.8,15.4,14.2,14.0,13.6,13.2, 13.0,12.8,15.2,16.0,15.4,14.8,15.6,15.0,14.8,15.2,
                14.8,15.4,15.0,14.8,15.4,14.4,14.2,14.6,14.4,14.0, 14.6,15.2,14.4,15.8,18.0,16.0,14.8,15.2],
    "hbm_3nm": [13.4,12.0,13.0,12.4,13.4,11.8,12.2,13.2,12.6,10.8, 13.0,12.4,12.8,13.6,12.6,10.6,13.2,12.4,11.4,12.6,
                11.8,11.2,12.6,13.0,11.6,12.2,11.4,11.0,10.6,10.2, 9.6,10.4,12.4,12.8,12.6,11.8,12.8,12.2,11.6,12.6,
                12.0,12.6,11.2,12.0,12.6,11.4,11.0,12.0,11.6,11.4, 11.8,12.4,11.6,12.8,14.6,13.0,12.4,12.2],
    "nemo_2nm": [14.4,14.0,14.2,13.8,14.0,13.8,13.6,14.0,14.4,13.8, 14.0,13.6,13.8,14.4,14.0,14.8,14.2,13.8,13.4,13.6,
                 13.2,13.0,13.8,14.2,13.2,13.4,12.8,12.6,12.4,12.2, 12.0,11.8,13.6,14.2,13.6,13.2,13.8,13.4,13.2,13.6,
                 13.2,13.6,13.4,13.0,13.6,12.8,12.6,13.0,12.8,12.6, 13.0,13.6,12.8,14.0,15.8,14.6,13.6,13.2],
}
bottom_sal_by15 = {
    "getm_1nm": [13.2,13.4,13.3,13.2,13.1,13.2,13.0,13.1,13.2,13.4, 13.3,13.3,13.2,13.4,13.3,13.2,13.0,13.2,13.3,13.1,
                 13.2,13.0,12.9,12.8,12.7,12.6,12.5,12.4,12.3,12.2, 12.1,12.0,12.2,12.4,12.5,12.6,12.7,12.8,12.9,12.9,
                 12.9,13.0,12.9,12.8,12.8,13.0,13.1,13.1,13.0,12.9, 12.9,12.8,12.8,12.7,13.8,13.7,13.6,13.4],
    "getm_2nm": [13.0,12.2,11.2,11.0,11.0,11.1,11.0,11.1,11.1,11.0, 11.0,10.9,11.0,11.2,11.0,10.9,10.8,10.8,10.8,10.7,
                 10.7,10.6,10.6,10.5,10.4,10.4,10.3,10.2,10.1,10.0, 9.9,10.2,10.6,10.5,10.4,10.4,10.3,10.4,10.3,10.3,
                 10.3,10.3,10.6,10.4,10.3,10.2,10.3,10.2,10.1,10.2, 10.1,10.0,10.1,10.2,10.7,10.6,10.5,10.3],
    "mom_3nm": [12.2,12.4,12.6,12.7,12.7,12.8,12.8,13.0,13.0,13.0, 12.9,12.8,12.9,12.8,12.8,12.7,12.7,12.6,12.6,12.6,
                12.5,12.5,12.4,12.3,12.2,12.1,12.0,11.9,11.8,11.7, 11.6,11.5,12.0,12.5,12.6,12.6,12.7,12.6,12.6,12.7,
                12.8,12.8,12.7,12.6,12.6,12.8,12.9,12.8,12.7,12.7, 12.6,12.6,12.6,12.6,13.9,14.0,13.9,13.8],
    "mom_1nm": [12.2,12.2,12.1,12.3,12.2,12.3,12.4,12.6,12.6,12.5, 12.5,12.4,12.4,12.3,12.3,12.2,12.2,12.1,12.1,12.0,
                12.0,11.9,11.9,11.8,11.8,11.7,11.7,11.6,11.6,11.5, 11.5,11.4,11.6,12.0,12.0,11.9,11.9,11.8,12.0,12.0,
                12.0,12.1,12.1,12.0,12.0,12.2,12.3,12.2,12.1,12.1, 12.0,12.0,12.0,11.9,13.3,13.4,13.2,13.0],
    "hbm_3nm": [9.2,9.0,8.8,8.6,8.5,8.6,8.7,8.8,8.7,8.5, 8.3,8.2,8.0,7.8,7.7,7.6,7.8,7.9,8.0,7.9,
                7.8,7.7,7.6,7.6,7.5,7.6,7.5,7.4,7.4,7.3, 7.2,7.0,6.9,7.2,7.3,7.1,7.4,7.6,7.5,7.3,
                7.2,7.4,7.5,7.3,7.2,7.4,7.5,7.6,7.4,7.5, 7.6,7.7,7.6,7.7,7.9,8.1,8.2,8.2],
    "nemo_2nm": [11.6,11.5,11.4,11.3,11.3,11.2,11.2,11.2,11.1,11.2, 11.2,11.1,11.1,11.2,11.1,11.0,11.0,10.9,10.9,10.9,
                 10.8,10.8,10.7,10.7,10.6,10.5,10.4,10.3,10.2,10.1, 10.0,9.9,10.0,10.3,10.4,10.5,10.6,10.6,10.5,10.5,
                 10.4,10.5,10.5,10.4,10.3,10.3,10.4,10.4,10.3,10.3, 10.2,10.2,10.3,10.4,10.9,10.8,10.7,10.6],
}
bottom_sal_f9 = {
    "getm_1nm": [4.0,4.1,4.0,4.1,4.0,4.1,4.2,4.1,4.2,4.2, 4.2,4.3,4.2,4.3,4.3,4.2,4.4,4.3,4.4,4.5,
                 4.4,4.3,4.5,4.3,4.2,4.3,4.2,4.1,4.2,4.1, 4.0,4.1,3.9,3.8,3.9,3.8,3.9,3.8,3.7,3.8,
                 3.7,3.7,3.6,3.7,3.6,3.6,3.7,3.6,3.7,3.7, 3.6,3.7,3.8,3.7,4.0,3.6,3.5,3.3],
    "getm_2nm": [4.9,4.7,4.5,4.3,4.0,4.0,3.9,4.0,3.9,3.9, 4.0,3.9,4.0,4.1,4.0,4.0,4.1,4.2,4.2,4.3,
                 4.3,4.2,4.5,4.3,4.2,4.2,4.1,4.0,4.0,3.9, 3.9,4.0,3.8,3.8,3.9,3.8,3.8,3.7,3.7,3.6,
                 3.6,3.7,3.6,3.7,3.7,3.6,3.7,3.6,3.7,3.6, 3.6,3.5,3.7,3.6,3.9,3.5,3.6,3.4],
    "mom_3nm": [3.2,3.0,2.9,2.8,2.8,2.7,2.7,2.7,2.6,2.6, 2.6,2.6,2.6,2.6,2.6,2.6,2.6,2.6,2.6,2.6,
                2.6,2.6,2.6,2.6,2.6,2.6,2.6,2.6,2.5,2.5, 2.5,2.5,2.5,2.5,2.5,2.5,2.5,2.5,2.5,2.5,
                2.5,2.5,2.4,2.4,2.4,2.4,2.4,2.4,2.4,2.4, 2.4,2.4,2.4,2.4,2.4,2.4,2.3,2.3],
    "mom_1nm": [3.5,3.4,3.3,3.3,3.2,3.2,3.1,3.1,3.1,3.1, 3.1,3.1,3.1,3.2,3.1,3.1,3.2,3.1,3.2,3.2,
                3.1,3.2,3.3,3.1,3.1,3.1,3.0,3.0,3.0,3.0, 3.0,3.0,2.9,2.9,2.9,2.9,2.9,2.9,2.9,2.9,
                2.9,2.9,2.8,2.8,2.8,2.8,2.8,2.8,2.8,2.8, 2.8,2.7,2.8,2.7,2.8,2.7,2.7,2.7],
    "hbm_3nm": [2.8,2.7,2.7,2.6,2.6,2.5,2.4,2.4,2.3,2.3, 2.3,2.2,2.2,2.2,2.1,2.1,2.1,2.1,2.0,2.0,
                2.0,1.9,2.0,1.9,1.9,1.8,1.8,1.8,1.7,1.7, 1.7,1.7,1.6,1.6,1.6,1.5,1.5,1.5,1.5,1.4,
                1.4,1.4,1.4,1.3,1.3,1.3,1.2,1.2,1.2,1.1, 1.1,1.1,1.1,1.1,1.1,1.1,1.1,1.1],
    "nemo_2nm": [3.5,3.4,3.4,3.3,3.3,3.3,3.3,3.3,3.3,3.3, 3.4,3.3,3.4,3.4,3.4,3.4,3.4,3.4,3.4,3.4,
                 3.4,3.4,3.5,3.4,3.3,3.3,3.3,3.2,3.2,3.2, 3.2,3.2,3.1,3.1,3.1,3.1,3.1,3.0,3.0,3.0,
                 3.0,3.0,2.9,2.9,2.9,2.9,2.9,2.8,2.8,2.8, 2.8,2.8,2.8,2.8,2.9,2.8,2.8,2.8],
}

panels = [
    [summer_anholt, winter_anholt, bottom_temp_anholt, bottom_sal_anholt],
    [summer_by2, winter_by2, bottom_temp_by2, bottom_sal_by2],
    [summer_by5, winter_by5, bottom_temp_by5, bottom_sal_by5],
    [summer_by15, winter_by15, bottom_temp_by15, bottom_sal_by15],
    [summer_f9, winter_f9, bottom_temp_f9, bottom_sal_f9],
]
scores = [
    [1.19, 0.96, 0.66, 1.18],
    [0.41, 0.29, 0.45, 1.19],
    [0.60, 0.34, 1.09, 1.49],
    [0.91, 0.53, 0.80, 2.10],
    [2.53, 0.42, 0.44, 0.87],
]
y_ranges = [
    [(10, 22.9), (-0.75, 7.2), (6, 10), (31.2, 35.45)],
    [(10, 23), (0, 8), (5.15, 10), (9.8, 20.2)],
    [(10, 23), (0, 8), (0, 11.5), (8.8, 19.6)],
    [(10, 23), (0, 8), (3.1, 8.9), (6, 14)],
    [(1.75, 15), (-1.05, 6.9), (1, 4), (1, 5)],
]
y_ticks = [
    [[10, 15, 20], [0, 2, 4, 6], [6, 8, 10], [32, 34]],
    [[10, 15, 20], [0, 2, 4, 6, 8], [6, 8, 10], [12, 15, 18]],
    [[10, 15, 20], [0, 2, 4, 6, 8], [0, 5, 10], [9, 12, 15, 18]],
    [[10, 15, 20], [0, 2, 4, 6, 8], [4, 6, 8], [6, 8, 10, 12, 14]],
    [[5, 10, 15], [0, 2, 4, 6], [2, 3, 4], [1, 2, 3, 4, 5]],
]

# panel geometry in pixels
col_x = [(43, 242), (282, 482), (523, 723), (763, 962)]
row_y = [(79, 132), (144, 196), (208, 261), (273, 325), (337, 390)]


def fx(px):
    return px / W


def fy(py):
    return 1 - py / H


fig = go.Figure()
layout = {}
annotations = []
axis_color = "#333333"
serif = "Liberation Serif"
sans = "Liberation Sans"
tick_font = dict(family=serif, size=13.5, color="#222")

for r in range(5):
    for c in range(4):
        i = r * 4 + c + 1
        xs = "x" if i == 1 else f"x{i}"
        ys = "y" if i == 1 else f"y{i}"
        xname = "xaxis" if i == 1 else f"xaxis{i}"
        yname = "yaxis" if i == 1 else f"yaxis{i}"
        x0, x1 = col_x[c]
        y0, y1 = row_y[r]
        xt = list(range(1960, 2021, 5))
        layout[xname] = dict(
            domain=[fx(x0), fx(x1)], range=[1960, 2020], anchor=ys,
            tickmode="array", tickvals=xt,
            ticktext=[str(v) if v % 10 == 0 else "" for v in xt],
            showticklabels=(r == 4), ticks="inside", ticklen=5, tickwidth=1,
            tickcolor=axis_color, showline=True, linecolor=axis_color, linewidth=1.5,
            mirror="ticks", showgrid=False, zeroline=False,
            tickfont=dict(family=serif, size=14.5, color="#222"),
        )
        tv = y_ticks[r][c]
        tt = [str(v) for v in tv]
        if r == 4 and c == 2:
            tt = ["2", "", "4"]
        layout[yname] = dict(
            domain=[fy(y1), fy(y0)], range=list(y_ranges[r][c]), anchor=xs,
            side="right" if c in (1, 3) else "left",
            tickmode="array", tickvals=tv, ticktext=tt,
            ticks="inside", ticklen=5, tickwidth=1, tickcolor=axis_color,
            showline=True, linecolor=axis_color, linewidth=1.5, mirror="ticks",
            showgrid=False, zeroline=False, tickfont=tick_font,
        )
        data = panels[r][c]
        for m in models:
            vals = data[m]
            fig.add_trace(go.Scatter(
                x=years[:len(vals)], y=vals, mode="lines", xaxis=xs, yaxis=ys,
                line=dict(color=colors[m], width=1), showlegend=False, name=m,
                hoverinfo="skip"))
        annotations.append(dict(
            x=fx((x0 + x1) / 2), y=fy(y0 + 11), xref="paper", yref="paper",
            text=f"<b>{scores[r][c]:.2f}</b>", showarrow=False,
            font=dict(family=sans, size=14, color="#111"),
            xanchor="center", yanchor="middle"))

# column titles
title_x = [142, 384, 624, 864]
for c, t in enumerate(col_titles):
    annotations.append(dict(x=fx(title_x[c]), y=fy(45), xref="paper", yref="paper",
                            text=t, showarrow=False, xanchor="center", yanchor="middle",
                            font=dict(family=serif, size=18, color="#111")))

# station labels
for r, s in enumerate(stations):
    yc = (row_y[r][0] + row_y[r][1]) / 2
    for xl in (263, 742):
        annotations.append(dict(x=fx(xl), y=fy(yc), xref="paper", yref="paper",
                                text=s, showarrow=False, textangle=-90,
                                xanchor="center", yanchor="middle",
                                font=dict(family=serif, size=16, color="#111")))

# frames of the two figure halves
sep = "#d6d6d6"
shapes = [
    dict(type="line", xref="paper", yref="paper", x0=fx(495), x1=fx(495), y0=fy(12), y1=fy(407),
         line=dict(color=sep, width=1.5)),
    dict(type="line", xref="paper", yref="paper", x0=fx(10), x1=fx(495), y0=fy(407), y1=fy(407),
         line=dict(color=sep, width=1.5)),
    dict(type="line", xref="paper", yref="paper", x0=fx(504), x1=fx(504), y0=fy(12), y1=fy(412),
         line=dict(color=sep, width=1.5)),
    dict(type="line", xref="paper", yref="paper", x0=fx(504), x1=fx(902), y0=fy(412), y1=fy(412),
         line=dict(color=sep, width=1.5)),
]

# legend boxes
legend_boxes = [(40, 173, 42, 67, 82), (191, 323, 193, 218, 232), (329, 460, 331, 355, 369),
                (462, 598, 466, 490, 506), (604, 738, 606, 630, 643), (748, 902, 750, 775, 788)]
for m, (bx0, bx1, lx0, lx1, tx) in zip(models, legend_boxes):
    shapes.append(dict(type="rect", xref="paper", yref="paper", x0=fx(bx0), x1=fx(bx1),
                       y0=fy(450), y1=fy(412), line=dict(color="#cccccc", width=1),
                       fillcolor="rgba(0,0,0,0)"))
    shapes.append(dict(type="line", xref="paper", yref="paper", x0=fx(lx0), x1=fx(lx1),
                       y0=fy(426), y1=fy(426), line=dict(color=colors[m], width=1.2)))
    annotations.append(dict(x=fx(tx), y=fy(425), xref="paper", yref="paper", text=m,
                            showarrow=False, xanchor="left", yanchor="middle",
                            font=dict(family=serif, size=19, color="#111")))

fig.update_layout(
    width=W, height=H, margin=dict(l=0, r=0, t=0, b=0),
    paper_bgcolor="white", plot_bgcolor="white",
    showlegend=False, annotations=annotations, shapes=shapes,
    font=dict(family=serif, color="#222"),
    **layout,
)

fig.write_html("out.html")
